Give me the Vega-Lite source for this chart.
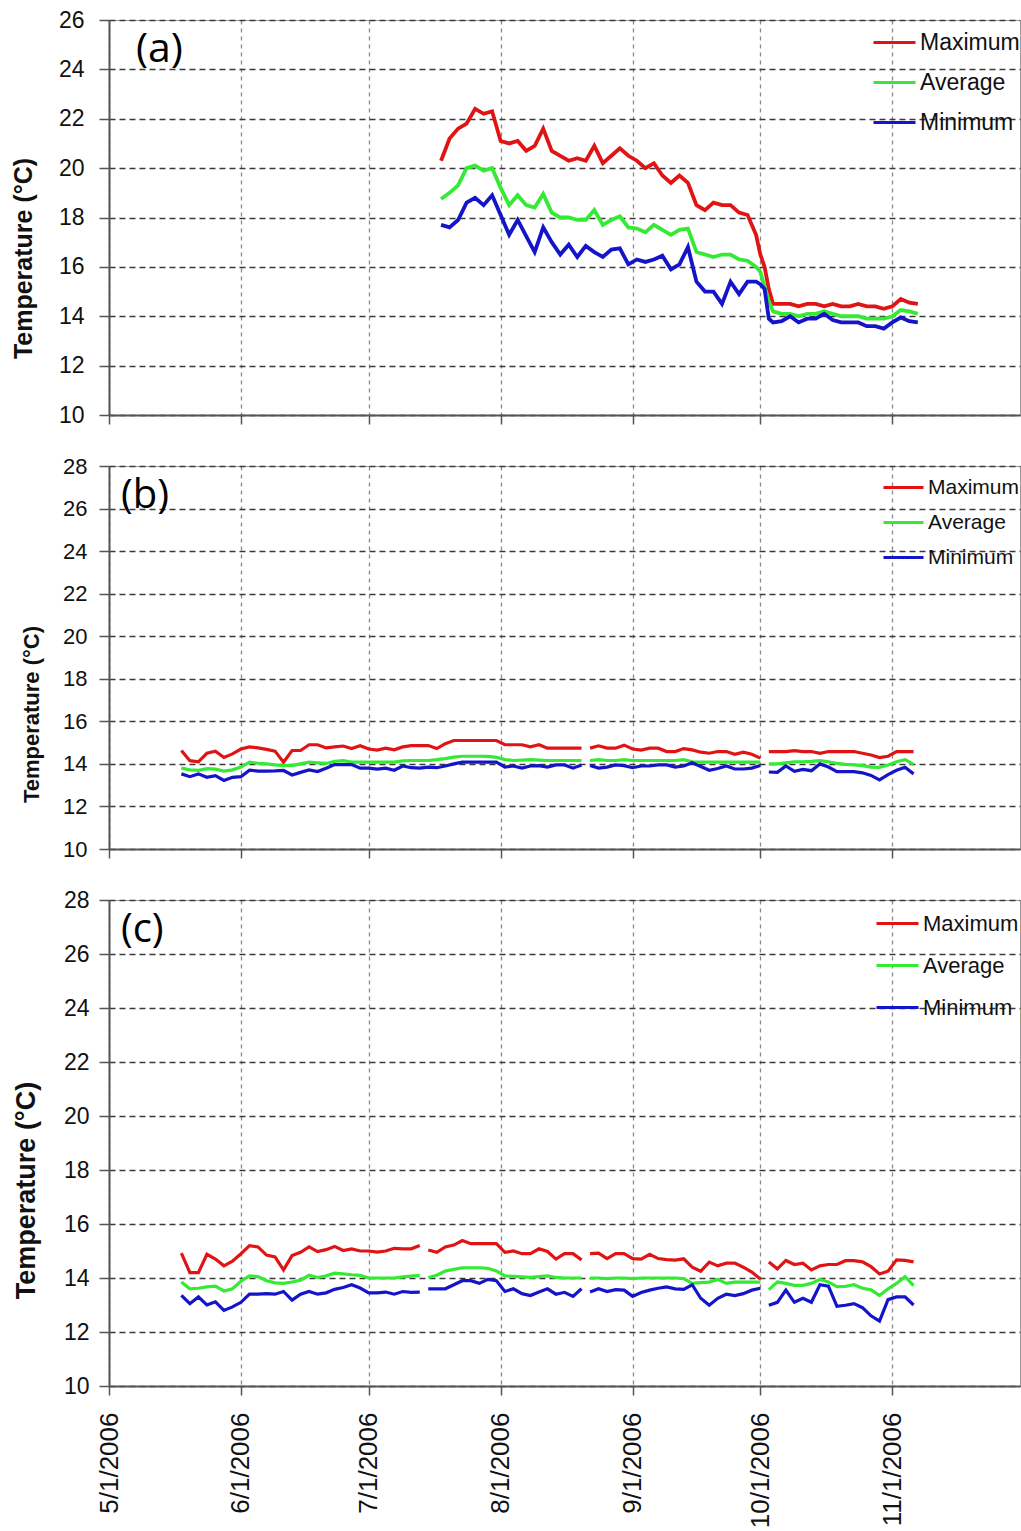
{
  "$schema": "https://vega.github.io/schema/vega-lite/v6.json",
  "background": "white",
  "padding": {"left": 10, "top": 8, "right": 0, "bottom": 0},
  "datasets": {
    "a": [
      {"d":"2006/07/18","Maximum":20.3,"Average":18.75,"Minimum":17.7},
      {"d":"2006/07/20","Maximum":21.2,"Average":19.0,"Minimum":17.6},
      {"d":"2006/07/22","Maximum":21.6,"Average":19.3,"Minimum":17.9},
      {"d":"2006/07/24","Maximum":21.8,"Average":20.0,"Minimum":18.6},
      {"d":"2006/07/26","Maximum":22.4,"Average":20.1,"Minimum":18.8},
      {"d":"2006/07/28","Maximum":22.2,"Average":19.9,"Minimum":18.5},
      {"d":"2006/07/30","Maximum":22.3,"Average":20.0,"Minimum":18.9},
      {"d":"2006/08/01","Maximum":21.1,"Average":19.2,"Minimum":18.1},
      {"d":"2006/08/03","Maximum":21.0,"Average":18.5,"Minimum":17.3},
      {"d":"2006/08/05","Maximum":21.1,"Average":18.9,"Minimum":17.9},
      {"d":"2006/08/07","Maximum":20.7,"Average":18.5,"Minimum":17.25},
      {"d":"2006/08/09","Maximum":20.9,"Average":18.4,"Minimum":16.6},
      {"d":"2006/08/11","Maximum":21.6,"Average":18.95,"Minimum":17.6},
      {"d":"2006/08/13","Maximum":20.7,"Average":18.2,"Minimum":17.0},
      {"d":"2006/08/15","Maximum":20.5,"Average":18.0,"Minimum":16.5},
      {"d":"2006/08/17","Maximum":20.3,"Average":18.0,"Minimum":16.9},
      {"d":"2006/08/19","Maximum":20.4,"Average":17.9,"Minimum":16.4},
      {"d":"2006/08/21","Maximum":20.3,"Average":17.9,"Minimum":16.85},
      {"d":"2006/08/23","Maximum":20.9,"Average":18.3,"Minimum":16.6},
      {"d":"2006/08/25","Maximum":20.2,"Average":17.7,"Minimum":16.4},
      {"d":"2006/08/27","Maximum":20.5,"Average":17.9,"Minimum":16.7},
      {"d":"2006/08/29","Maximum":20.8,"Average":18.05,"Minimum":16.75},
      {"d":"2006/08/31","Maximum":20.5,"Average":17.6,"Minimum":16.1},
      {"d":"2006/09/02","Maximum":20.3,"Average":17.55,"Minimum":16.3},
      {"d":"2006/09/04","Maximum":20.0,"Average":17.4,"Minimum":16.2},
      {"d":"2006/09/06","Maximum":20.2,"Average":17.7,"Minimum":16.3},
      {"d":"2006/09/08","Maximum":19.7,"Average":17.5,"Minimum":16.45},
      {"d":"2006/09/10","Maximum":19.4,"Average":17.3,"Minimum":15.9},
      {"d":"2006/09/12","Maximum":19.7,"Average":17.5,"Minimum":16.1},
      {"d":"2006/09/14","Maximum":19.4,"Average":17.55,"Minimum":16.8},
      {"d":"2006/09/16","Maximum":18.5,"Average":16.6,"Minimum":15.4},
      {"d":"2006/09/18","Maximum":18.3,"Average":16.5,"Minimum":15.0},
      {"d":"2006/09/20","Maximum":18.6,"Average":16.4,"Minimum":15.0},
      {"d":"2006/09/22","Maximum":18.5,"Average":16.5,"Minimum":14.5},
      {"d":"2006/09/24","Maximum":18.5,"Average":16.5,"Minimum":15.4},
      {"d":"2006/09/26","Maximum":18.2,"Average":16.3,"Minimum":14.9},
      {"d":"2006/09/28","Maximum":18.1,"Average":16.25,"Minimum":15.4},
      {"d":"2006/09/30","Maximum":17.3,"Average":16.0,"Minimum":15.4},
      {"d":"2006/10/01","Maximum":16.5,"Average":15.8,"Minimum":15.3},
      {"d":"2006/10/02","Maximum":16.0,"Average":15.2,"Minimum":15.1},
      {"d":"2006/10/03","Maximum":15.1,"Average":14.6,"Minimum":13.9},
      {"d":"2006/10/04","Maximum":14.5,"Average":14.2,"Minimum":13.75},
      {"d":"2006/10/06","Maximum":14.5,"Average":14.1,"Minimum":13.8},
      {"d":"2006/10/08","Maximum":14.5,"Average":14.1,"Minimum":14.0},
      {"d":"2006/10/10","Maximum":14.4,"Average":14.0,"Minimum":13.75},
      {"d":"2006/10/12","Maximum":14.5,"Average":14.1,"Minimum":13.9},
      {"d":"2006/10/14","Maximum":14.5,"Average":14.1,"Minimum":13.9},
      {"d":"2006/10/16","Maximum":14.4,"Average":14.2,"Minimum":14.1},
      {"d":"2006/10/18","Maximum":14.5,"Average":14.1,"Minimum":13.85},
      {"d":"2006/10/20","Maximum":14.4,"Average":14.0,"Minimum":13.75},
      {"d":"2006/10/22","Maximum":14.4,"Average":14.0,"Minimum":13.75},
      {"d":"2006/10/24","Maximum":14.5,"Average":14.0,"Minimum":13.75},
      {"d":"2006/10/26","Maximum":14.4,"Average":13.9,"Minimum":13.6},
      {"d":"2006/10/28","Maximum":14.4,"Average":13.9,"Minimum":13.6},
      {"d":"2006/10/30","Maximum":14.3,"Average":13.9,"Minimum":13.5},
      {"d":"2006/11/01","Maximum":14.4,"Average":14.0,"Minimum":13.75},
      {"d":"2006/11/03","Maximum":14.7,"Average":14.25,"Minimum":13.95},
      {"d":"2006/11/05","Maximum":14.55,"Average":14.2,"Minimum":13.8},
      {"d":"2006/11/07","Maximum":14.5,"Average":14.1,"Minimum":13.75}
    ],
    "b": [
      {"d":"2006/05/18","Maximum":14.63,"Average":13.8,"Minimum":13.53},
      {"d":"2006/05/20","Maximum":14.15,"Average":13.72,"Minimum":13.4},
      {"d":"2006/05/22","Maximum":14.1,"Average":13.7,"Minimum":13.53},
      {"d":"2006/05/24","Maximum":14.5,"Average":13.78,"Minimum":13.37},
      {"d":"2006/05/26","Maximum":14.6,"Average":13.75,"Minimum":13.45},
      {"d":"2006/05/28","Maximum":14.3,"Average":13.66,"Minimum":13.22},
      {"d":"2006/05/30","Maximum":14.47,"Average":13.72,"Minimum":13.37},
      {"d":"2006/06/01","Maximum":14.7,"Average":13.85,"Minimum":13.4},
      {"d":"2006/06/03","Maximum":14.8,"Average":14.08,"Minimum":13.7},
      {"d":"2006/06/05","Maximum":14.75,"Average":14.03,"Minimum":13.66},
      {"d":"2006/06/07","Maximum":14.68,"Average":14.0,"Minimum":13.66},
      {"d":"2006/06/09","Maximum":14.6,"Average":13.95,"Minimum":13.67},
      {"d":"2006/06/11","Maximum":14.08,"Average":13.92,"Minimum":13.69},
      {"d":"2006/06/13","Maximum":14.63,"Average":13.92,"Minimum":13.48},
      {"d":"2006/06/15","Maximum":14.63,"Average":14.0,"Minimum":13.6},
      {"d":"2006/06/17","Maximum":14.9,"Average":14.08,"Minimum":13.72},
      {"d":"2006/06/19","Maximum":14.9,"Average":14.05,"Minimum":13.64},
      {"d":"2006/06/21","Maximum":14.75,"Average":14.02,"Minimum":13.8},
      {"d":"2006/06/23","Maximum":14.8,"Average":14.12,"Minimum":13.97},
      {"d":"2006/06/25","Maximum":14.84,"Average":14.15,"Minimum":13.97},
      {"d":"2006/06/27","Maximum":14.72,"Average":14.08,"Minimum":13.97},
      {"d":"2006/06/29","Maximum":14.85,"Average":14.08,"Minimum":13.8},
      {"d":"2006/07/01","Maximum":14.7,"Average":14.08,"Minimum":13.8},
      {"d":"2006/07/03","Maximum":14.65,"Average":14.08,"Minimum":13.75},
      {"d":"2006/07/05","Maximum":14.74,"Average":14.08,"Minimum":13.8},
      {"d":"2006/07/07","Maximum":14.66,"Average":14.08,"Minimum":13.7},
      {"d":"2006/07/09","Maximum":14.8,"Average":14.14,"Minimum":13.9},
      {"d":"2006/07/11","Maximum":14.86,"Average":14.16,"Minimum":13.82},
      {"d":"2006/07/13","Maximum":14.86,"Average":14.16,"Minimum":13.8},
      {"d":"2006/07/15","Maximum":14.86,"Average":14.16,"Minimum":13.85},
      {"d":"2006/07/17","Maximum":14.72,"Average":14.2,"Minimum":13.82},
      {"d":"2006/07/19","Maximum":14.95,"Average":14.25,"Minimum":13.9},
      {"d":"2006/07/21","Maximum":15.1,"Average":14.32,"Minimum":14.0},
      {"d":"2006/07/23","Maximum":15.1,"Average":14.36,"Minimum":14.08},
      {"d":"2006/07/25","Maximum":15.1,"Average":14.36,"Minimum":14.08},
      {"d":"2006/07/27","Maximum":15.1,"Average":14.36,"Minimum":14.08},
      {"d":"2006/07/29","Maximum":15.1,"Average":14.35,"Minimum":14.08},
      {"d":"2006/07/31","Maximum":15.1,"Average":14.31,"Minimum":14.08},
      {"d":"2006/08/02","Maximum":14.9,"Average":14.2,"Minimum":13.85},
      {"d":"2006/08/04","Maximum":14.9,"Average":14.16,"Minimum":13.9},
      {"d":"2006/08/06","Maximum":14.9,"Average":14.18,"Minimum":13.8},
      {"d":"2006/08/08","Maximum":14.8,"Average":14.2,"Minimum":13.9},
      {"d":"2006/08/10","Maximum":14.9,"Average":14.18,"Minimum":13.92},
      {"d":"2006/08/12","Maximum":14.74,"Average":14.16,"Minimum":13.85},
      {"d":"2006/08/14","Maximum":14.74,"Average":14.16,"Minimum":13.95},
      {"d":"2006/08/16","Maximum":14.74,"Average":14.16,"Minimum":13.95},
      {"d":"2006/08/18","Maximum":14.74,"Average":14.16,"Minimum":13.8},
      {"d":"2006/08/20","Maximum":14.74,"Average":14.16,"Minimum":13.95},
      {"d":"2006/08/21","Maximum":null,"Average":null,"Minimum":null},
      {"d":"2006/08/22","Maximum":14.74,"Average":14.16,"Minimum":13.92},
      {"d":"2006/08/24","Maximum":14.85,"Average":14.2,"Minimum":13.8},
      {"d":"2006/08/26","Maximum":14.74,"Average":14.16,"Minimum":13.85},
      {"d":"2006/08/28","Maximum":14.74,"Average":14.16,"Minimum":13.95},
      {"d":"2006/08/30","Maximum":14.88,"Average":14.2,"Minimum":13.92},
      {"d":"2006/09/01","Maximum":14.7,"Average":14.16,"Minimum":13.82},
      {"d":"2006/09/03","Maximum":14.65,"Average":14.16,"Minimum":13.9},
      {"d":"2006/09/05","Maximum":14.74,"Average":14.16,"Minimum":13.9},
      {"d":"2006/09/07","Maximum":14.74,"Average":14.16,"Minimum":13.95},
      {"d":"2006/09/09","Maximum":14.58,"Average":14.16,"Minimum":13.95},
      {"d":"2006/09/11","Maximum":14.58,"Average":14.16,"Minimum":13.85},
      {"d":"2006/09/13","Maximum":14.72,"Average":14.2,"Minimum":13.9},
      {"d":"2006/09/15","Maximum":14.66,"Average":14.1,"Minimum":14.05},
      {"d":"2006/09/17","Maximum":14.55,"Average":14.08,"Minimum":13.88},
      {"d":"2006/09/19","Maximum":14.5,"Average":14.08,"Minimum":13.7},
      {"d":"2006/09/21","Maximum":14.58,"Average":14.08,"Minimum":13.78},
      {"d":"2006/09/23","Maximum":14.58,"Average":14.08,"Minimum":13.9},
      {"d":"2006/09/25","Maximum":14.45,"Average":14.08,"Minimum":13.76},
      {"d":"2006/09/27","Maximum":14.55,"Average":14.08,"Minimum":13.76},
      {"d":"2006/09/29","Maximum":14.45,"Average":14.08,"Minimum":13.8},
      {"d":"2006/10/01","Maximum":14.27,"Average":14.08,"Minimum":13.92},
      {"d":"2006/10/02","Maximum":null,"Average":null,"Minimum":null},
      {"d":"2006/10/03","Maximum":14.58,"Average":14.0,"Minimum":13.62},
      {"d":"2006/10/05","Maximum":14.58,"Average":14.0,"Minimum":13.6},
      {"d":"2006/10/07","Maximum":14.58,"Average":14.05,"Minimum":13.9},
      {"d":"2006/10/09","Maximum":14.62,"Average":14.1,"Minimum":13.65},
      {"d":"2006/10/11","Maximum":14.58,"Average":14.1,"Minimum":13.74},
      {"d":"2006/10/13","Maximum":14.58,"Average":14.12,"Minimum":13.68},
      {"d":"2006/10/15","Maximum":14.5,"Average":14.15,"Minimum":14.0},
      {"d":"2006/10/17","Maximum":14.58,"Average":14.1,"Minimum":13.85},
      {"d":"2006/10/19","Maximum":14.58,"Average":14.02,"Minimum":13.64},
      {"d":"2006/10/21","Maximum":14.58,"Average":13.98,"Minimum":13.64},
      {"d":"2006/10/23","Maximum":14.58,"Average":13.95,"Minimum":13.64},
      {"d":"2006/10/25","Maximum":14.5,"Average":13.92,"Minimum":13.58},
      {"d":"2006/10/27","Maximum":14.42,"Average":13.85,"Minimum":13.46},
      {"d":"2006/10/29","Maximum":14.3,"Average":13.84,"Minimum":13.25},
      {"d":"2006/10/31","Maximum":14.36,"Average":13.95,"Minimum":13.5},
      {"d":"2006/11/02","Maximum":14.58,"Average":14.1,"Minimum":13.7},
      {"d":"2006/11/04","Maximum":14.58,"Average":14.2,"Minimum":13.84},
      {"d":"2006/11/06","Maximum":14.58,"Average":13.98,"Minimum":13.53}
    ],
    "c": [
      {"d":"2006/05/18","Maximum":14.92,"Average":13.85,"Minimum":13.36},
      {"d":"2006/05/20","Maximum":14.2,"Average":13.6,"Minimum":13.05},
      {"d":"2006/05/22","Maximum":14.2,"Average":13.62,"Minimum":13.3},
      {"d":"2006/05/24","Maximum":14.88,"Average":13.67,"Minimum":13.0},
      {"d":"2006/05/26","Maximum":14.7,"Average":13.7,"Minimum":13.12},
      {"d":"2006/05/28","Maximum":14.45,"Average":13.52,"Minimum":12.8},
      {"d":"2006/05/30","Maximum":14.62,"Average":13.6,"Minimum":12.93},
      {"d":"2006/06/01","Maximum":14.9,"Average":13.88,"Minimum":13.1},
      {"d":"2006/06/03","Maximum":15.2,"Average":14.08,"Minimum":13.4},
      {"d":"2006/06/05","Maximum":15.15,"Average":14.05,"Minimum":13.4},
      {"d":"2006/06/07","Maximum":14.85,"Average":13.9,"Minimum":13.42},
      {"d":"2006/06/09","Maximum":14.78,"Average":13.82,"Minimum":13.4},
      {"d":"2006/06/11","Maximum":14.3,"Average":13.8,"Minimum":13.5},
      {"d":"2006/06/13","Maximum":14.83,"Average":13.85,"Minimum":13.18},
      {"d":"2006/06/15","Maximum":14.95,"Average":13.92,"Minimum":13.4},
      {"d":"2006/06/17","Maximum":15.15,"Average":14.1,"Minimum":13.5},
      {"d":"2006/06/19","Maximum":14.98,"Average":14.02,"Minimum":13.4},
      {"d":"2006/06/21","Maximum":15.05,"Average":14.08,"Minimum":13.45},
      {"d":"2006/06/23","Maximum":15.17,"Average":14.18,"Minimum":13.58},
      {"d":"2006/06/25","Maximum":15.02,"Average":14.15,"Minimum":13.65},
      {"d":"2006/06/27","Maximum":15.08,"Average":14.12,"Minimum":13.75},
      {"d":"2006/06/29","Maximum":15.0,"Average":14.1,"Minimum":13.63},
      {"d":"2006/07/01","Maximum":15.0,"Average":14.0,"Minimum":13.45},
      {"d":"2006/07/03","Maximum":14.96,"Average":14.0,"Minimum":13.45},
      {"d":"2006/07/05","Maximum":15.0,"Average":14.0,"Minimum":13.48},
      {"d":"2006/07/07","Maximum":15.1,"Average":14.0,"Minimum":13.4},
      {"d":"2006/07/09","Maximum":15.08,"Average":14.04,"Minimum":13.5},
      {"d":"2006/07/11","Maximum":15.08,"Average":14.07,"Minimum":13.47},
      {"d":"2006/07/13","Maximum":15.2,"Average":14.1,"Minimum":13.48},
      {"d":"2006/07/14","Maximum":null,"Average":null,"Minimum":null},
      {"d":"2006/07/15","Maximum":15.04,"Average":14.02,"Minimum":13.6},
      {"d":"2006/07/17","Maximum":14.95,"Average":14.1,"Minimum":13.6},
      {"d":"2006/07/19","Maximum":15.15,"Average":14.26,"Minimum":13.6},
      {"d":"2006/07/21","Maximum":15.22,"Average":14.32,"Minimum":13.75},
      {"d":"2006/07/23","Maximum":15.39,"Average":14.38,"Minimum":13.9},
      {"d":"2006/07/25","Maximum":15.27,"Average":14.38,"Minimum":13.9},
      {"d":"2006/07/27","Maximum":15.27,"Average":14.38,"Minimum":13.8},
      {"d":"2006/07/29","Maximum":15.27,"Average":14.36,"Minimum":13.95},
      {"d":"2006/07/31","Maximum":15.27,"Average":14.26,"Minimum":13.9},
      {"d":"2006/08/02","Maximum":14.95,"Average":14.08,"Minimum":13.5},
      {"d":"2006/08/04","Maximum":15.0,"Average":14.06,"Minimum":13.6},
      {"d":"2006/08/06","Maximum":14.9,"Average":14.04,"Minimum":13.42},
      {"d":"2006/08/08","Maximum":14.9,"Average":14.02,"Minimum":13.35},
      {"d":"2006/08/10","Maximum":15.08,"Average":14.05,"Minimum":13.48},
      {"d":"2006/08/12","Maximum":14.98,"Average":14.08,"Minimum":13.6},
      {"d":"2006/08/14","Maximum":14.7,"Average":14.02,"Minimum":13.4},
      {"d":"2006/08/16","Maximum":14.9,"Average":14.0,"Minimum":13.47},
      {"d":"2006/08/18","Maximum":14.9,"Average":14.0,"Minimum":13.32},
      {"d":"2006/08/20","Maximum":14.67,"Average":14.0,"Minimum":13.6},
      {"d":"2006/08/21","Maximum":null,"Average":null,"Minimum":null},
      {"d":"2006/08/22","Maximum":14.9,"Average":14.0,"Minimum":13.48},
      {"d":"2006/08/24","Maximum":14.92,"Average":14.0,"Minimum":13.6},
      {"d":"2006/08/26","Maximum":14.72,"Average":13.98,"Minimum":13.5},
      {"d":"2006/08/28","Maximum":14.9,"Average":14.0,"Minimum":13.57},
      {"d":"2006/08/30","Maximum":14.9,"Average":14.0,"Minimum":13.55},
      {"d":"2006/09/01","Maximum":14.72,"Average":13.98,"Minimum":13.32},
      {"d":"2006/09/03","Maximum":14.7,"Average":14.0,"Minimum":13.46},
      {"d":"2006/09/05","Maximum":14.88,"Average":14.0,"Minimum":13.55},
      {"d":"2006/09/07","Maximum":14.72,"Average":14.0,"Minimum":13.62},
      {"d":"2006/09/09","Maximum":14.68,"Average":14.0,"Minimum":13.67},
      {"d":"2006/09/11","Maximum":14.66,"Average":14.0,"Minimum":13.6},
      {"d":"2006/09/13","Maximum":14.71,"Average":13.98,"Minimum":13.58},
      {"d":"2006/09/15","Maximum":14.4,"Average":13.8,"Minimum":13.75},
      {"d":"2006/09/17","Maximum":14.25,"Average":13.83,"Minimum":13.25},
      {"d":"2006/09/19","Maximum":14.59,"Average":13.85,"Minimum":12.99},
      {"d":"2006/09/21","Maximum":14.45,"Average":13.95,"Minimum":13.25},
      {"d":"2006/09/23","Maximum":14.55,"Average":13.8,"Minimum":13.4},
      {"d":"2006/09/25","Maximum":14.55,"Average":13.85,"Minimum":13.35},
      {"d":"2006/09/27","Maximum":14.4,"Average":13.85,"Minimum":13.42},
      {"d":"2006/09/29","Maximum":14.22,"Average":13.85,"Minimum":13.55},
      {"d":"2006/10/01","Maximum":13.96,"Average":13.85,"Minimum":13.62},
      {"d":"2006/10/02","Maximum":null,"Average":null,"Minimum":null},
      {"d":"2006/10/03","Maximum":14.59,"Average":13.57,"Minimum":12.99},
      {"d":"2006/10/05","Maximum":14.34,"Average":13.85,"Minimum":13.1},
      {"d":"2006/10/07","Maximum":14.65,"Average":13.8,"Minimum":13.55},
      {"d":"2006/10/09","Maximum":14.5,"Average":13.73,"Minimum":13.1},
      {"d":"2006/10/11","Maximum":14.55,"Average":13.73,"Minimum":13.25},
      {"d":"2006/10/13","Maximum":14.3,"Average":13.8,"Minimum":13.1},
      {"d":"2006/10/15","Maximum":14.45,"Average":13.95,"Minimum":13.75},
      {"d":"2006/10/17","Maximum":14.5,"Average":13.85,"Minimum":13.7},
      {"d":"2006/10/19","Maximum":14.5,"Average":13.68,"Minimum":12.95},
      {"d":"2006/10/21","Maximum":14.64,"Average":13.69,"Minimum":12.99},
      {"d":"2006/10/23","Maximum":14.64,"Average":13.75,"Minimum":13.05},
      {"d":"2006/10/25","Maximum":14.6,"Average":13.62,"Minimum":12.9},
      {"d":"2006/10/27","Maximum":14.42,"Average":13.56,"Minimum":12.6},
      {"d":"2006/10/29","Maximum":14.15,"Average":13.35,"Minimum":12.4},
      {"d":"2006/10/31","Maximum":14.25,"Average":13.6,"Minimum":13.2},
      {"d":"2006/11/02","Maximum":14.67,"Average":13.8,"Minimum":13.3},
      {"d":"2006/11/04","Maximum":14.65,"Average":14.05,"Minimum":13.3},
      {"d":"2006/11/06","Maximum":14.6,"Average":13.72,"Minimum":13.0}
    ]
  },
  "vconcat": [
    {
      "width": 911, "height": 395,
      "data": {"name": "a"},
      "layer": [
        {
          "transform": [{"fold": ["Maximum","Average","Minimum"], "as": ["series","temp"]}],
          "mark": {"type": "line", "strokeWidth": 3.8, "invalid": "break-paths-show-domains"},
          "encoding": {
            "x": {"field": "d", "type": "temporal",
              "scale": {"domain": [{"year":2006,"month":5,"date":1},{"year":2006,"month":12,"date":1}]},
              "axis": {"title": null, "labels": false, "values": [{"year":2006,"month":5,"date":1},{"year":2006,"month":6,"date":1},{"year":2006,"month":7,"date":1},{"year":2006,"month":8,"date":1},{"year":2006,"month":9,"date":1},{"year":2006,"month":10,"date":1},{"year":2006,"month":11,"date":1}]}},
            "y": {"field": "temp", "type": "quantitative",
              "scale": {"domain": [10, 26], "nice": false, "zero": false},
              "axis": {"title": "Temperature (°C)", "values": [10,12,14,16,18,20,22,24,26], "labelFontSize": 23, "labelPadding": 15, "titleFontSize": 25, "titleX": -73, "titleY": 238, "titleAngle": 270, "titleBaseline": "bottom", "titleAlign": "center"}},
            "color": {"field": "series", "type": "nominal",
              "scale": {"domain": ["Maximum","Average","Minimum"], "range": ["#e01414","#35ea35","#1414c8"]},
              "legend": {"title": null, "orient": "top-right", "offset": 0, "symbolType": "stroke", "symbolSize": 1764, "symbolStrokeWidth": 3, "labelFontSize": 23, "rowPadding": 5, "labelOffset": 3, "padding": 0}}
          }
        },
        {
          "data": {"values": [{"t": "(a)"}]},
          "mark": {"type": "text", "align": "left", "baseline": "middle", "font": "Open Sans", "fontSize": 41, "color": "#000"},
          "encoding": {
            "x": {"datum": {"year":2006,"month":5,"date":7,"hours":8}, "type": "temporal"},
            "y": {"datum": 24.8, "type": "quantitative"},
            "text": {"field": "t"}
          }
        }
      ]
    },
    {
      "width": 911, "height": 383,
      "data": {"name": "b"},
      "layer": [
        {
          "transform": [{"fold": ["Maximum","Average","Minimum"], "as": ["series","temp"]}],
          "mark": {"type": "line", "strokeWidth": 3.2, "invalid": "break-paths-show-domains"},
          "encoding": {
            "x": {"field": "d", "type": "temporal",
              "scale": {"domain": [{"year":2006,"month":5,"date":1},{"year":2006,"month":12,"date":1}]},
              "axis": {"title": null, "labels": false, "values": [{"year":2006,"month":5,"date":1},{"year":2006,"month":6,"date":1},{"year":2006,"month":7,"date":1},{"year":2006,"month":8,"date":1},{"year":2006,"month":9,"date":1},{"year":2006,"month":10,"date":1},{"year":2006,"month":11,"date":1}]}},
            "y": {"field": "temp", "type": "quantitative",
              "scale": {"domain": [10, 28], "nice": false, "zero": false},
              "axis": {"title": "Temperature (°C)", "values": [10,12,14,16,18,20,22,24,26,28], "labelFontSize": 22, "labelPadding": 12, "titleFontSize": 22, "titleX": -66, "titleY": 248, "titleAngle": 270, "titleBaseline": "bottom", "titleAlign": "center"}},
            "color": {"field": "series", "type": "nominal",
              "scale": {"domain": ["Maximum","Average","Minimum"], "range": ["#e01414","#35ea35","#1414c8"]},
              "legend": {"title": null, "orient": "top-right", "offset": 0, "symbolType": "stroke", "symbolSize": 1600, "symbolStrokeWidth": 3, "labelFontSize": 21, "rowPadding": 3, "labelOffset": 3, "padding": 0}}
          }
        },
        {
          "data": {"values": [{"t": "(b)"}]},
          "mark": {"type": "text", "align": "left", "baseline": "middle", "font": "Open Sans", "fontSize": 40, "color": "#000"},
          "encoding": {
            "x": {"datum": {"year":2006,"month":5,"date":3,"hours":19}, "type": "temporal"},
            "y": {"datum": 26.6, "type": "quantitative"},
            "text": {"field": "t"}
          }
        }
      ]
    },
    {
      "width": 911, "height": 486,
      "data": {"name": "c"},
      "layer": [
        {
          "transform": [{"fold": ["Maximum","Average","Minimum"], "as": ["series","temp"]}],
          "mark": {"type": "line", "strokeWidth": 3.2, "invalid": "break-paths-show-domains"},
          "encoding": {
            "x": {"field": "d", "type": "temporal",
              "scale": {"domain": [{"year":2006,"month":5,"date":1},{"year":2006,"month":12,"date":1}]},
              "axis": {"title": null, "format": "%-m/%-d/%Y", "labelAngle": 270, "labelFontSize": 26, "labelPadding": 17, "values": [{"year":2006,"month":5,"date":1},{"year":2006,"month":6,"date":1},{"year":2006,"month":7,"date":1},{"year":2006,"month":8,"date":1},{"year":2006,"month":9,"date":1},{"year":2006,"month":10,"date":1},{"year":2006,"month":11,"date":1}]}},
            "y": {"field": "temp", "type": "quantitative",
              "scale": {"domain": [10, 28], "nice": false, "zero": false},
              "axis": {"title": "Temperature (°C)", "values": [10,12,14,16,18,20,22,24,26,28], "labelFontSize": 23, "labelPadding": 10, "titleFontSize": 27, "titleX": -69, "titleY": 290, "titleAngle": 270, "titleBaseline": "bottom", "titleAlign": "center"}},
            "color": {"field": "series", "type": "nominal",
              "scale": {"domain": ["Maximum","Average","Minimum"], "range": ["#e01414","#35ea35","#1414c8"]},
              "legend": {"title": null, "orient": "top-right", "offset": 1, "symbolType": "stroke", "symbolSize": 1764, "symbolStrokeWidth": 3, "labelFontSize": 22, "rowPadding": 8, "labelOffset": 3, "padding": 0}}
          }
        },
        {
          "data": {"values": [{"t": "(c)"}]},
          "mark": {"type": "text", "align": "left", "baseline": "middle", "font": "Open Sans", "fontSize": 40, "color": "#000"},
          "encoding": {
            "x": {"datum": {"year":2006,"month":5,"date":3,"hours":19}, "type": "temporal"},
            "y": {"datum": 26.9, "type": "quantitative"},
            "text": {"field": "t"}
          }
        }
      ]
    }
  ],
  "spacing": 51,
  "bounds": "flush",
  "resolve": {"scale": {"x": "independent", "y": "independent", "color": "independent"}, "legend": {"color": "independent"}, "axis": {"x": "independent", "y": "independent"}},
  "config": {
    "view": {"stroke": "#9a9a9a", "strokeWidth": 1},
    "axis": {"domainColor": "#555", "domainWidth": 2, "tickColor": "#555", "tickWidth": 1.5, "labelFont": "Liberation Sans", "titleFont": "Liberation Sans", "labelColor": "#111", "titleColor": "#111", "titleFontWeight": "bold", "gridWidth": 1.3},
    "axisX": {"gridColor": "#8a8a8a", "gridDash": [4, 4], "tickSize": 9},
    "axisY": {"gridColor": "#3a3a3a", "gridDash": [6, 4], "tickSize": 10},
    "legend": {"labelFont": "Liberation Sans", "labelColor": "#111"}
  }
}
